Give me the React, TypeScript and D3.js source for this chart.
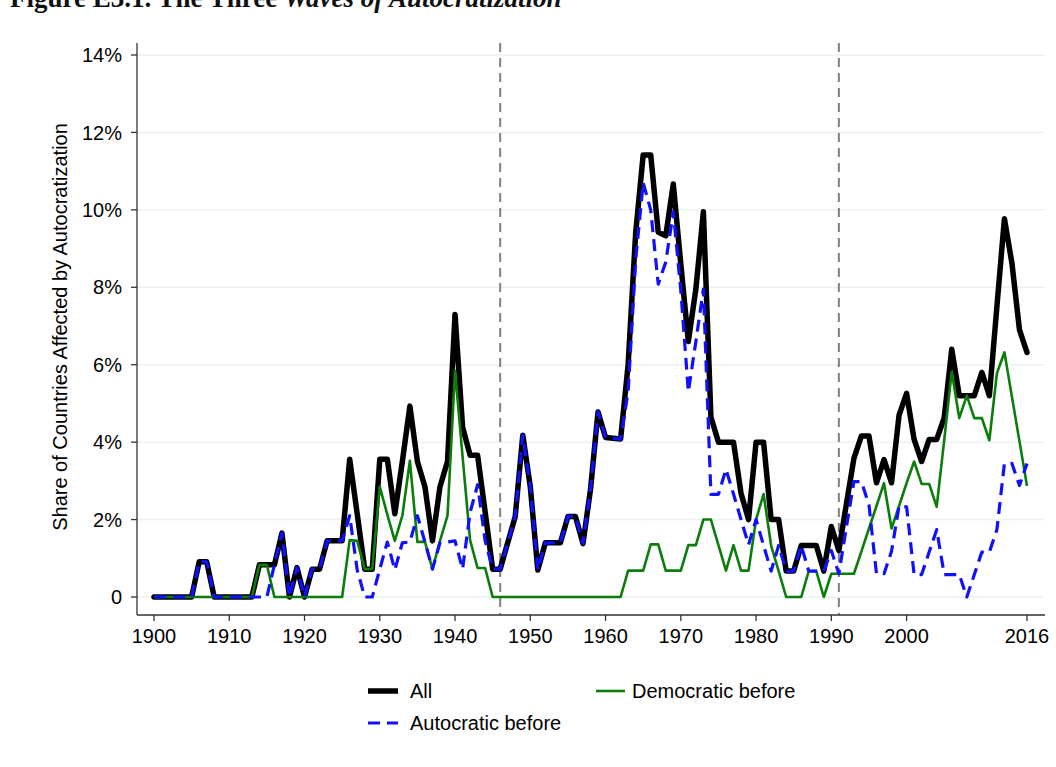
import React from "react";
import * as d3 from "d3";

// Years 1900–2016
const years: number[] = d3.range(1900, 2017);

// Share of countries affected by autocratization (%), all countries
const allShare: number[] = [
  0, 0, 0, 0, 0, 0, 0.91, 0.91, 0, 0,
  0, 0, 0, 0, 0.83, 0.83, 0.83, 1.65, 0, 0.76,
  0, 0.72, 0.72, 1.45, 1.45, 1.45, 3.56, 2.15, 0.72, 0.72,
  3.56, 3.56, 2.15, 3.5, 4.93, 3.5, 2.85, 1.45, 2.85, 3.5,
  7.3, 4.39, 3.66, 3.66, 2.2, 0.72, 0.72, 1.4, 2.08, 4.18,
  2.85, 0.7, 1.4, 1.4, 1.4, 2.08, 2.08, 1.38, 2.78, 4.78,
  4.12, 4.1, 4.08, 6.0, 9.4, 11.42, 11.42, 9.42, 9.33, 10.67,
  8.6, 6.6, 7.95, 9.95, 4.65, 4.0, 4.0, 4.0, 2.68, 2.0,
  4.0, 4.0, 2.0, 2.0, 0.67, 0.67, 1.33, 1.33, 1.33, 0.67,
  1.82, 1.2, 2.4, 3.58, 4.16, 4.16, 2.95, 3.55, 2.95, 4.7,
  5.26, 4.07, 3.5, 4.07, 4.07, 4.63, 6.4, 5.2, 5.2, 5.2,
  5.8, 5.2, 7.5, 9.77, 8.62, 6.9, 6.32,
];

// Countries that were autocratic before the episode (%)
const autocraticShare: number[] = [
  0, 0, 0, 0, 0, 0, 0.91, 0.91, 0, 0,
  0, 0, 0, 0, 0, 0, 0.83, 1.65, 0, 0.76,
  0, 0.72, 0.72, 1.45, 1.45, 1.45, 2.1, 0.7, 0, 0,
  0.72, 1.42, 0.7, 1.4, 1.42, 2.1, 1.42, 0.72, 1.4, 1.42,
  1.45, 0.72, 2.18, 2.9, 1.45, 0.72, 0.72, 1.4, 2.08, 4.18,
  2.85, 0.7, 1.4, 1.4, 1.4, 2.08, 2.08, 1.38, 2.78, 4.78,
  4.12, 4.1, 4.08, 5.3, 8.7, 10.7, 10.0, 8.08, 8.65, 9.95,
  7.92, 5.3, 6.6, 7.95, 2.65, 2.65, 3.3, 2.66, 2.0, 1.35,
  2.0, 1.33, 0.67, 1.33, 0.67, 0.67, 1.33, 0.67, 0.67, 0.67,
  1.2, 0.6, 1.8, 2.98, 2.98, 2.38, 0.6, 0.6, 1.18, 2.35,
  2.33, 0.58, 0.58, 1.16, 1.74, 0.58, 0.58, 0.58, 0, 0.58,
  1.16, 1.16, 1.74, 3.45, 3.45, 2.88, 3.45,
];

// Countries that were democratic before the episode (%)
const democraticShare: number[] = [
  0, 0, 0, 0, 0, 0, 0, 0, 0, 0,
  0, 0, 0, 0, 0.83, 0.83, 0, 0, 0, 0,
  0, 0, 0, 0, 0, 0, 1.47, 1.45, 0.72, 0.72,
  2.85, 2.13, 1.45, 2.1, 3.52, 1.42, 1.43, 0.72, 1.45, 2.1,
  5.85, 3.63, 1.47, 0.75, 0.75, 0, 0, 0, 0, 0,
  0, 0, 0, 0, 0, 0, 0, 0, 0, 0,
  0, 0, 0, 0.68, 0.68, 0.68, 1.36, 1.36, 0.68, 0.68,
  0.68, 1.34, 1.34, 2.0, 2.0, 1.34, 0.68, 1.34, 0.68, 0.68,
  2.0, 2.66, 1.33, 0.67, 0, 0, 0, 0.67, 0.67, 0,
  0.6, 0.6, 0.6, 0.6, 1.18, 1.77, 2.35, 2.94, 1.77, 2.35,
  2.94, 3.5, 2.92, 2.92, 2.33, 4.05, 5.82, 4.62, 5.2, 4.62,
  4.62, 4.05, 5.78, 6.32, 5.17, 4.02, 2.87,
];

const xTicks: number[] = [1900, 1910, 1920, 1930, 1940, 1950, 1960, 1970, 1980, 1990, 2000, 2016];
const yTicks: number[] = [0, 2, 4, 6, 8, 10, 12, 14];
const waveBreaks: number[] = [1946, 1991];

const W = 1056;
const H = 767;
const FONT = "'Liberation Sans', Arial, Helvetica, sans-serif";
const FS = 20;

export default function App() {
  const x = d3.scaleLinear().domain([1900, 2016]).range([154, 1027]);
  const y = d3.scaleLinear().domain([0, 14]).range([597, 55]);
  const axisX = 137;
  const axisY = 615;
  const plotTop = 43;

  const line = d3
    .line<number>()
    .x((_, i) => x(years[i]))
    .y((v) => y(v))
    .curve(d3.curveLinear);

  const yLabel = (v: number) => (v === 0 ? "0" : `${v}%`);

  return (
    <svg
      width={W}
      height={H}
      style={{ position: "absolute", left: 0, top: 0, background: "#fff" }}
    >
      <rect x={0} y={0} width={W} height={H} fill="#fff" />
      {/* caption, running off the top edge */}
      <text x={10} y={7} fontFamily="'Liberation Serif', 'Times New Roman', serif" fontSize={27} fontWeight="bold" fill="#111">
        <tspan>Figure E3.1. The Three </tspan>
        <tspan fontStyle="italic">Waves of Autocratization</tspan>
      </text>

      {/* gridlines */}
      {yTicks.map((t) => (
        <line key={`g${t}`} x1={axisX} x2={1045} y1={y(t)} y2={y(t)} stroke="#eaf2f3" strokeWidth={1.5} />
      ))}

      {/* wave boundaries */}
      {waveBreaks.map((b) => (
        <line
          key={`b${b}`}
          x1={x(b)}
          x2={x(b)}
          y1={plotTop}
          y2={axisY}
          stroke="#808080"
          strokeWidth={2}
          strokeDasharray="9,6"
        />
      ))}

      {/* series */}
      <path d={line(allShare) ?? ""} fill="none" stroke="#000" strokeWidth={5.5} strokeLinejoin="round" strokeLinecap="round" />
      <path d={line(democraticShare) ?? ""} fill="none" stroke="#0a7d0a" strokeWidth={2.6} strokeLinejoin="round" />
      <path d={line(autocraticShare) ?? ""} fill="none" stroke="#1010ff" strokeWidth={3.2} strokeDasharray="12,7" strokeLinejoin="round" />

      {/* axes */}
      <line x1={axisX} x2={axisX} y1={plotTop} y2={axisY} stroke="#333" strokeWidth={1.3} />
      <line x1={axisX} x2={1045} y1={axisY} y2={axisY} stroke="#333" strokeWidth={1.3} />
      {yTicks.map((t) => (
        <g key={`yt${t}`}>
          <line x1={axisX - 6} x2={axisX} y1={y(t)} y2={y(t)} stroke="#333" strokeWidth={1.3} />
          <text x={axisX - 15} y={y(t)} dy="0.36em" textAnchor="end" fontFamily={FONT} fontSize={FS} fill="#000">
            {yLabel(t)}
          </text>
        </g>
      ))}
      {xTicks.map((t) => (
        <g key={`xt${t}`}>
          <line x1={x(t)} x2={x(t)} y1={axisY} y2={axisY + 6} stroke="#333" strokeWidth={1.3} />
          <text x={x(t)} y={axisY + 28} textAnchor="middle" fontFamily={FONT} fontSize={FS} fill="#000">
            {t}
          </text>
        </g>
      ))}
      <text
        transform={`translate(67, ${327}) rotate(-90)`}
        textAnchor="middle"
        fontFamily={FONT}
        fontSize={FS}
        fill="#000"
      >
        Share of Countries Affected by Autocratization
      </text>

      {/* legend */}
      <line x1={368} x2={398} y1={691} y2={691} stroke="#000" strokeWidth={5.5} />
      <text x={410} y={691} dy="0.36em" fontFamily={FONT} fontSize={FS} fill="#000">All</text>
      <line x1={596} x2={625} y1={691} y2={691} stroke="#0a7d0a" strokeWidth={2.6} />
      <text x={632} y={691} dy="0.36em" fontFamily={FONT} fontSize={FS} fill="#000">Democratic before</text>
      <line x1={368} x2={398} y1={723} y2={723} stroke="#1010ff" strokeWidth={3.2} strokeDasharray="12,7" />
      <text x={410} y={723} dy="0.36em" fontFamily={FONT} fontSize={FS} fill="#000">Autocratic before</text>
    </svg>
  );
}
